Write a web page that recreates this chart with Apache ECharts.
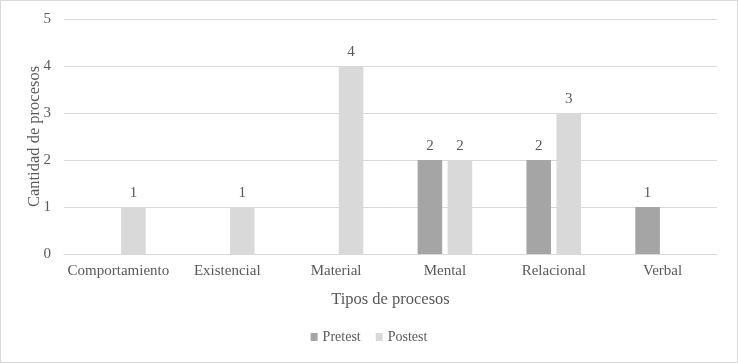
<!DOCTYPE html>
<html>
<head>
<meta charset="utf-8">
<script src="https://cdn.jsdelivr.net/npm/echarts@6/dist/echarts.min.js"></script>
<style>
  html, body { margin: 0; padding: 0; background: #fff; }
  #main { width: 738px; height: 363px; box-sizing: border-box; border: 1px solid #d9d9d9; }
</style>
</head>
<body>
<div id="main"></div>
<script>
const categories = ['Comportamiento', 'Existencial', 'Material', 'Mental', 'Relacional', 'Verbal'];
const pretest = [null, null, null, 2, 2, 1];
const postest = [1, 1, 4, 2, 3, null];
const yTicks = { min: 0, max: 5, interval: 1 };

const font = 'Liberation Serif';
const textColor = '#595959';

const labelStyle = {
    show: true,
    position: 'top',
    color: textColor,
    fontFamily: font,
    fontSize: 15,
    distance: 6
};

var chart = echarts.init(document.getElementById('main'));
chart.setOption({
    animation: false,
    textStyle: { fontFamily: font, color: textColor },
    grid: { left: 63, right: 20, top: 18, bottom: 108 },
    legend: {
        bottom: 13,
        itemWidth: 7,
        itemHeight: 8,
        itemGap: 15,
        icon: 'rect',
        textStyle: { color: textColor, fontFamily: font, fontSize: 14 },
        data: ['Pretest', 'Postest']
    },
    xAxis: {
        type: 'category',
        data: categories,
        name: 'Tipos de procesos',
        nameLocation: 'middle',
        nameGap: 37,
        nameMoveOverlap: false,
        nameTextStyle: { color: textColor, fontFamily: font, fontSize: 16.5 },
        axisLine: { lineStyle: { color: '#d9d9d9', width: 1 } },
        axisTick: { show: false },
        axisLabel: { interval: 0, color: textColor, fontFamily: font, fontSize: 15, margin: 10 }
    },
    yAxis: {
        type: 'value',
        min: yTicks.min,
        max: yTicks.max,
        interval: yTicks.interval,
        name: 'Cantidad de procesos',
        nameLocation: 'middle',
        nameGap: 21,
        nameMoveOverlap: false,
        nameTextStyle: { color: textColor, fontFamily: font, fontSize: 16.5 },
        axisLine: { show: false },
        axisTick: { show: false },
        axisLabel: { color: textColor, fontFamily: font, fontSize: 15, margin: 13 },
        splitLine: { lineStyle: { color: '#d9d9d9', width: 1 } }
    },
    series: [
        {
            name: 'Pretest',
            type: 'bar',
            data: pretest,
            barWidth: '22.6%',
            barGap: '22%',
            itemStyle: { color: '#a5a5a5' },
            label: labelStyle
        },
        {
            name: 'Postest',
            type: 'bar',
            data: postest,
            barWidth: '22.6%',
            itemStyle: { color: '#d9d9d9' },
            label: labelStyle
        }
    ]
});
</script>
</body>
</html>
